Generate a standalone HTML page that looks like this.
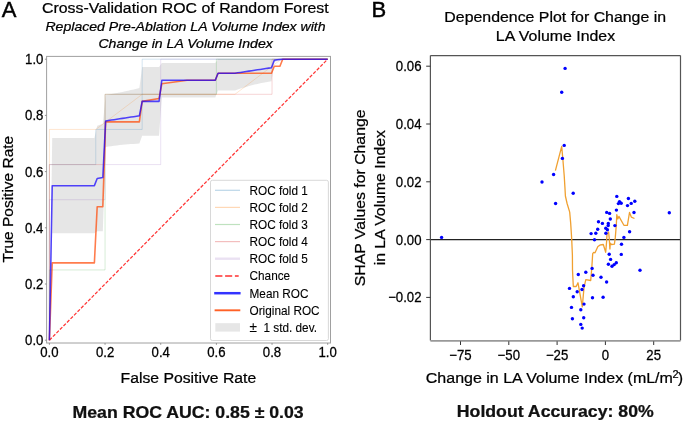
<!DOCTYPE html>
<html><head><meta charset="utf-8"><style>
html,body{margin:0;padding:0;background:#fff;}
body{width:685px;height:422px;overflow:hidden;}
svg{display:block;will-change:transform;}
text{font-family:"Liberation Sans",sans-serif;fill:#000;stroke:#000;stroke-width:0.25px;}
.tk{font-size:13.2px;}
.lab{font-size:16px;}
.lg{font-size:11.8px;stroke-width:0.1px;}
.bold{font-size:17.7px;font-weight:bold;fill:#111;}
.it{font-size:14.1px;font-style:italic;}
</style></head><body>
<svg width="685" height="422" viewBox="0 0 685 422">
<rect width="685" height="422" fill="#fff"/>
<!-- LEFT PANEL -->
<text x="1.7" y="16.6" style="font-size:22px;stroke-width:0.45px">A</text>
<text transform="translate(185.3,13.3) scale(1,0.95)" text-anchor="middle" class="lab" style="font-size:15.9px">Cross-Validation ROC of Random Forest</text>
<text transform="translate(185.5,30.6) scale(1,0.96)" text-anchor="middle" class="it">Replaced Pre-Ablation LA Volume Index with</text>
<text transform="translate(185.6,47.8) scale(1,0.96)" text-anchor="middle" class="it">Change in LA Volume Index</text>
<defs><clipPath id="lc"><rect x="46.6" y="56.4" width="283.9" height="286.6"/></clipPath></defs>
<g clip-path="url(#lc)">
<polygon points="49.40,340.20 52.21,138.00 55.02,138.00 57.83,138.00 60.64,138.00 63.46,138.00 66.27,138.00 69.08,138.00 71.89,138.00 74.70,138.00 77.51,138.00 80.32,138.00 83.13,138.00 85.94,138.00 88.76,138.00 91.57,138.00 94.38,138.00 97.19,125.64 100.00,124.81 102.81,123.96 105.62,94.88 108.43,94.46 111.24,94.01 114.06,93.53 116.87,93.02 119.68,92.49 122.49,91.93 125.30,91.35 128.11,90.73 130.92,90.10 133.73,89.43 136.54,88.74 139.36,88.03 142.17,66.93 144.98,66.93 147.79,66.93 150.60,66.93 153.41,66.93 156.22,66.93 159.03,66.93 161.84,63.07 164.66,63.07 167.47,63.07 170.28,63.07 173.09,63.07 175.90,63.07 178.71,63.07 181.52,63.07 184.33,63.07 187.14,63.07 189.96,63.07 192.77,63.07 195.58,63.07 198.39,63.07 201.20,63.07 204.01,63.07 206.82,63.07 209.63,63.07 212.44,63.07 215.26,63.07 218.07,59.20 220.88,59.20 223.69,59.20 226.50,59.20 229.31,59.20 232.12,59.20 234.93,59.20 237.74,59.20 240.56,59.20 243.37,59.20 246.18,59.20 248.99,59.20 251.80,59.20 254.61,59.20 257.42,59.20 260.23,59.20 263.04,59.20 265.86,59.20 268.67,59.20 271.48,59.20 274.29,59.20 277.10,59.20 279.91,59.20 282.72,59.20 285.53,59.20 288.34,59.20 291.16,59.20 293.97,59.20 296.78,59.20 299.59,59.20 302.40,59.20 305.21,59.20 308.02,59.20 310.83,59.20 313.64,59.20 316.46,59.20 319.27,59.20 322.08,59.20 324.89,59.20 327.70,59.20 327.70,59.20 324.89,59.20 322.08,59.20 319.27,59.20 316.46,59.20 313.64,59.20 310.83,59.20 308.02,59.20 305.21,59.20 302.40,59.20 299.59,59.20 296.78,59.20 293.97,59.20 291.16,59.20 288.34,59.20 285.53,59.20 282.72,59.20 279.91,59.84 277.10,61.12 274.29,62.39 271.48,81.33 268.67,81.75 265.86,82.22 263.04,82.75 260.23,83.32 257.42,83.95 254.61,84.62 251.80,85.34 248.99,86.10 246.18,86.91 243.37,87.75 240.56,88.62 237.74,89.52 234.93,90.46 232.12,90.46 229.31,90.46 226.50,90.46 223.69,90.46 220.88,90.46 218.07,90.46 215.26,97.48 212.44,97.48 209.63,97.48 206.82,97.48 204.01,97.48 201.20,97.48 198.39,97.48 195.58,97.48 192.77,97.48 189.96,97.48 187.14,97.48 184.33,97.48 181.52,97.48 178.71,97.48 175.90,97.48 173.09,97.48 170.28,97.48 167.47,97.48 164.66,97.48 161.84,97.48 159.03,135.77 156.22,135.77 153.41,135.77 150.60,135.77 147.79,135.77 144.98,135.77 142.17,135.77 139.36,143.62 136.54,143.76 133.73,143.92 130.92,144.11 128.11,144.32 125.30,144.56 122.49,144.83 119.68,145.12 116.87,145.44 114.06,145.79 111.24,146.16 108.43,146.56 105.62,146.99 102.81,231.16 100.00,231.17 97.19,231.18 94.38,233.30 91.57,233.30 88.76,233.30 85.94,233.30 83.13,233.30 80.32,233.30 77.51,233.30 74.70,233.30 71.89,233.30 69.08,233.30 66.27,233.30 63.46,233.30 60.64,233.30 57.83,233.30 55.02,233.30 52.21,233.30 49.40,340.20" fill="#808080" fill-opacity="0.2"/>
<polyline points="49.40,340.20 49.40,164.57 95.78,164.57 95.78,129.45 142.17,129.45 142.17,59.20 327.70,59.20" fill="none" stroke="#1f77b4" stroke-opacity="0.19" stroke-width="1.0"/>
<polyline points="49.40,340.20 49.40,129.45 95.78,129.45 142.17,94.32 234.93,94.32 281.32,59.20 327.70,59.20" fill="none" stroke="#ff7f0e" stroke-opacity="0.19" stroke-width="1.0"/>
<polyline points="49.40,340.20 49.40,269.95 105.06,269.95 105.06,94.32 216.38,94.32 216.38,59.20 327.70,59.20" fill="none" stroke="#2ca02c" stroke-opacity="0.19" stroke-width="1.0"/>
<polyline points="49.40,340.20 49.40,164.57 105.06,164.57 105.06,94.32 272.04,94.32 272.04,59.20 327.70,59.20" fill="none" stroke="#d62728" stroke-opacity="0.19" stroke-width="1.0"/>
<polyline points="49.40,340.20 49.40,199.70 105.06,199.70 105.06,164.57 160.72,164.57 160.72,59.20 327.70,59.20" fill="none" stroke="#9467bd" stroke-opacity="0.19" stroke-width="1.0"/>

<line x1="49.40" y1="340.20" x2="327.70" y2="59.20" stroke="#ff3535" stroke-width="1.25" stroke-dasharray="3.4 1.6"/>
<polyline points="49.40,340.20 52.21,262.92 94.38,262.92 97.19,206.72 102.81,206.72 105.62,121.86 139.36,121.86 142.17,101.35 159.03,98.54 161.84,83.79 187.14,80.27 215.26,80.27 218.07,73.25 271.48,73.25 274.29,66.23 279.91,66.23 282.72,59.20 327.70,59.20" fill="none" stroke="#ff4500" stroke-opacity="0.7" stroke-width="1.6" stroke-linejoin="round"/>
<polyline points="49.40,340.20 52.21,185.65 55.02,185.65 57.83,185.65 60.64,185.65 63.46,185.65 66.27,185.65 69.08,185.65 71.89,185.65 74.70,185.65 77.51,185.65 80.32,185.65 83.13,185.65 85.94,185.65 88.76,185.65 91.57,185.65 94.38,185.65 97.19,178.41 100.00,177.99 102.81,177.56 105.62,120.93 108.43,120.51 111.24,120.08 114.06,119.66 116.87,119.23 119.68,118.81 122.49,118.38 125.30,117.95 128.11,117.53 130.92,117.10 133.73,116.68 136.54,116.25 139.36,115.83 142.17,101.35 144.98,101.35 147.79,101.35 150.60,101.35 153.41,101.35 156.22,101.35 159.03,101.35 161.84,80.27 164.66,80.27 167.47,80.27 170.28,80.27 173.09,80.27 175.90,80.27 178.71,80.27 181.52,80.27 184.33,80.27 187.14,80.27 189.96,80.27 192.77,80.27 195.58,80.27 198.39,80.27 201.20,80.27 204.01,80.27 206.82,80.27 209.63,80.27 212.44,80.27 215.26,80.27 218.07,73.25 220.88,73.25 223.69,73.25 226.50,73.25 229.31,73.25 232.12,73.25 234.93,73.25 237.74,72.82 240.56,72.40 243.37,71.97 246.18,71.55 248.99,71.12 251.80,70.70 254.61,70.27 257.42,69.84 260.23,69.42 263.04,68.99 265.86,68.57 268.67,68.14 271.48,67.72 274.29,60.26 277.10,59.84 279.91,59.41 282.72,59.20 285.53,59.20 288.34,59.20 291.16,59.20 293.97,59.20 296.78,59.20 299.59,59.20 302.40,59.20 305.21,59.20 308.02,59.20 310.83,59.20 313.64,59.20 316.46,59.20 319.27,59.20 322.08,59.20 324.89,59.20 327.70,59.20" fill="none" stroke="#1400ff" stroke-opacity="0.72" stroke-width="1.55" stroke-linejoin="round"/>
</g>
<rect x="46.6" y="56.4" width="283.9" height="286.6" fill="none" stroke="#a0a0a0" stroke-width="1"/>
<line x1="49.40" y1="343.0" x2="49.40" y2="344.8" stroke="#888" stroke-width="0.9"/><line x1="44.9" y1="340.20" x2="46.6" y2="340.20" stroke="#888" stroke-width="0.9"/><text transform="translate(49.40,357.0) scale(1,1.1)" text-anchor="middle" class="tk">0.0</text><text transform="translate(43.4,345.20) scale(1,1.1)" text-anchor="end" class="tk">0.0</text>
<line x1="105.06" y1="343.0" x2="105.06" y2="344.8" stroke="#888" stroke-width="0.9"/><line x1="44.9" y1="284.00" x2="46.6" y2="284.00" stroke="#888" stroke-width="0.9"/><text transform="translate(105.06,357.0) scale(1,1.1)" text-anchor="middle" class="tk">0.2</text><text transform="translate(43.4,289.00) scale(1,1.1)" text-anchor="end" class="tk">0.2</text>
<line x1="160.72" y1="343.0" x2="160.72" y2="344.8" stroke="#888" stroke-width="0.9"/><line x1="44.9" y1="227.80" x2="46.6" y2="227.80" stroke="#888" stroke-width="0.9"/><text transform="translate(160.72,357.0) scale(1,1.1)" text-anchor="middle" class="tk">0.4</text><text transform="translate(43.4,232.80) scale(1,1.1)" text-anchor="end" class="tk">0.4</text>
<line x1="216.38" y1="343.0" x2="216.38" y2="344.8" stroke="#888" stroke-width="0.9"/><line x1="44.9" y1="171.60" x2="46.6" y2="171.60" stroke="#888" stroke-width="0.9"/><text transform="translate(216.38,357.0) scale(1,1.1)" text-anchor="middle" class="tk">0.6</text><text transform="translate(43.4,176.60) scale(1,1.1)" text-anchor="end" class="tk">0.6</text>
<line x1="272.04" y1="343.0" x2="272.04" y2="344.8" stroke="#888" stroke-width="0.9"/><line x1="44.9" y1="115.40" x2="46.6" y2="115.40" stroke="#888" stroke-width="0.9"/><text transform="translate(272.04,357.0) scale(1,1.1)" text-anchor="middle" class="tk">0.8</text><text transform="translate(43.4,120.40) scale(1,1.1)" text-anchor="end" class="tk">0.8</text>
<line x1="327.70" y1="343.0" x2="327.70" y2="344.8" stroke="#888" stroke-width="0.9"/><line x1="44.9" y1="59.20" x2="46.6" y2="59.20" stroke="#888" stroke-width="0.9"/><text transform="translate(327.70,357.0) scale(1,1.1)" text-anchor="middle" class="tk">1.0</text><text transform="translate(43.4,64.20) scale(1,1.1)" text-anchor="end" class="tk">1.0</text>

<text transform="translate(13.3,199.2) rotate(-90) scale(1,0.95)" text-anchor="middle" class="lab" style="font-size:15.5px">True Positive Rate</text>
<text transform="translate(188.4,383.0) scale(1,0.95)" text-anchor="middle" class="lab" style="font-size:15.75px">False Positive Rate</text>
<text transform="translate(188.1,417.8) scale(1,0.95)" text-anchor="middle" class="bold">Mean ROC AUC: 0.85 ± 0.03</text>
<!-- legend -->
<rect x="210.5" y="180.3" width="117.9" height="160.2" rx="1.8" fill="#fff" fill-opacity="0.8" stroke="#d4d4d4" stroke-width="0.9"/>
<g class="lgh">
<line x1="215" y1="190.3" x2="240" y2="190.3" stroke="#1f77b4" stroke-opacity="0.3" stroke-width="1.2"/>
<line x1="215" y1="207.4" x2="240" y2="207.4" stroke="#ff7f0e" stroke-opacity="0.3" stroke-width="1.2"/>
<line x1="215" y1="224.5" x2="240" y2="224.5" stroke="#2ca02c" stroke-opacity="0.3" stroke-width="1.2"/>
<line x1="215" y1="241.6" x2="240" y2="241.6" stroke="#d62728" stroke-opacity="0.3" stroke-width="1.2"/>
<line x1="215" y1="258.7" x2="240" y2="258.7" stroke="#9467bd" stroke-opacity="0.2" stroke-width="2.4"/>
<line x1="215.3" y1="276.0" x2="238.7" y2="276.0" stroke="#ff3030" stroke-width="1.7" stroke-dasharray="7.1 2.7"/>
<line x1="214.2" y1="293.2" x2="240.6" y2="293.2" stroke="#0000ff" stroke-opacity="0.8" stroke-width="2.5"/>
<line x1="214.6" y1="310.3" x2="240.3" y2="310.3" stroke="#ff4500" stroke-opacity="0.85" stroke-width="1.9"/>
<rect x="215.3" y="323.2" width="24.7" height="8.4" fill="#808080" fill-opacity="0.2"/>
</g>
<g class="lg">
<text transform="translate(249.5,194.9) scale(1,1.12)" class="lg">ROC fold 1</text>
<text transform="translate(249.5,212.0) scale(1,1.12)" class="lg">ROC fold 2</text>
<text transform="translate(249.5,229.1) scale(1,1.12)" class="lg">ROC fold 3</text>
<text transform="translate(249.5,246.2) scale(1,1.12)" class="lg">ROC fold 4</text>
<text transform="translate(249.5,263.3) scale(1,1.12)" class="lg">ROC fold 5</text>
<text transform="translate(249.5,280.4) scale(1,1.12)" class="lg">Chance</text>
<text transform="translate(249.5,297.5) scale(1,1.12)" class="lg">Mean ROC</text>
<text transform="translate(249.5,314.6) scale(1,1.12)" class="lg">Original ROC</text>
<text transform="translate(249.5,331.7) scale(1,1.12)" class="lg"><tspan style="font-size:13.6px">±</tspan> <tspan dx="3.2">1 std. dev.</tspan></text>
</g>
<!-- RIGHT PANEL -->
<text x="371.5" y="16.6" style="font-size:22px;stroke-width:0.45px">B</text>
<text transform="translate(555.2,21.9) scale(1,0.95)" text-anchor="middle" class="lab" style="font-size:15.9px">Dependence Plot for Change in</text>
<text transform="translate(555.5,41.0) scale(1,0.95)" text-anchor="middle" class="lab" style="font-size:15.9px">LA Volume Index</text>
<line x1="430.4" y1="239.60" x2="680.5" y2="239.60" stroke="#222" stroke-width="1.1"/>
<polyline points="555.4,170.6 561.7,146.4 562.8,158.5 564.2,175.5 564.9,186.9 565.4,196.0 567.1,203.5 569.7,212.1 570.7,223.4 571.7,239.1 572.4,255 572.5,270 573.3,286.5 576.2,286.5 578.0,282.8 582.3,306.8 584.0,287.6 585.8,279.6 590.7,280.5 591.8,267.7 592.7,253.6 593.7,252.3 595.0,252.8 597.9,246.5 600.4,244.9 603.3,244.5 605.7,252.3 606.6,241.6 607.0,234.1 607.8,233.3 608.6,232.0 609.2,238 609.9,249 610.3,243.2 611.5,244.5 614.4,244.1 615.3,237.4 616.3,225 616.8,214.6 617.8,218.9 618.9,216.4 623.9,225.3 627.4,225.3 629.5,212.5 631.3,217.1 634.5,218.5" fill="none" stroke="#f0a030" stroke-width="1.3" stroke-linejoin="round"/>
<g fill="#0000ff"><circle cx="441.6" cy="237.4" r="1.7"/><circle cx="565.1" cy="68.4" r="1.7"/><circle cx="561.7" cy="92.2" r="1.7"/><circle cx="564.2" cy="145.4" r="1.7"/><circle cx="562.4" cy="158.4" r="1.7"/><circle cx="553.6" cy="174.5" r="1.7"/><circle cx="542.0" cy="182.0" r="1.7"/><circle cx="573.2" cy="193.3" r="1.7"/><circle cx="555.6" cy="203.5" r="1.7"/><circle cx="616.8" cy="196.4" r="1.7"/><circle cx="619.5" cy="201.6" r="1.7"/><circle cx="618.4" cy="203.6" r="1.7"/><circle cx="621.2" cy="203.2" r="1.7"/><circle cx="628.4" cy="198.5" r="1.7"/><circle cx="634.8" cy="201.2" r="1.7"/><circle cx="631.2" cy="203.4" r="1.7"/><circle cx="627.5" cy="205.6" r="1.7"/><circle cx="616.4" cy="210.1" r="1.7"/><circle cx="634.0" cy="212.5" r="1.7"/><circle cx="669.3" cy="212.8" r="1.7"/><circle cx="606.7" cy="212.4" r="1.7"/><circle cx="609.6" cy="213.4" r="1.7"/><circle cx="610.3" cy="219.0" r="1.7"/><circle cx="598.5" cy="221.7" r="1.7"/><circle cx="602.4" cy="223.4" r="1.7"/><circle cx="608.3" cy="223.5" r="1.7"/><circle cx="608.2" cy="225.6" r="1.7"/><circle cx="614.9" cy="225.6" r="1.7"/><circle cx="605.8" cy="228.2" r="1.7"/><circle cx="597.7" cy="229.3" r="1.7"/><circle cx="607.4" cy="229.8" r="1.7"/><circle cx="629.6" cy="231.7" r="1.7"/><circle cx="595.8" cy="233.3" r="1.7"/><circle cx="591.1" cy="233.6" r="1.7"/><circle cx="605.9" cy="233.2" r="1.7"/><circle cx="623.9" cy="237.4" r="1.7"/><circle cx="594.5" cy="239.8" r="1.7"/><circle cx="621.5" cy="244.2" r="1.7"/><circle cx="609.2" cy="254.3" r="1.7"/><circle cx="621.3" cy="254.4" r="1.7"/><circle cx="610.6" cy="259.4" r="1.7"/><circle cx="608.4" cy="264.2" r="1.7"/><circle cx="612.0" cy="266.2" r="1.7"/><circle cx="614.2" cy="264.6" r="1.7"/><circle cx="616.3" cy="262.7" r="1.7"/><circle cx="640.0" cy="270.2" r="1.7"/><circle cx="592.1" cy="268.4" r="1.7"/><circle cx="585.8" cy="272.3" r="1.7"/><circle cx="593.0" cy="275.2" r="1.7"/><circle cx="601.0" cy="277.2" r="1.7"/><circle cx="606.6" cy="282.0" r="1.7"/><circle cx="603.1" cy="297.3" r="1.7"/><circle cx="578.3" cy="274.5" r="1.7"/><circle cx="583.6" cy="285.7" r="1.7"/><circle cx="569.5" cy="288.4" r="1.7"/><circle cx="582.0" cy="289.5" r="1.7"/><circle cx="577.2" cy="291.8" r="1.7"/><circle cx="573.3" cy="296.8" r="1.7"/><circle cx="592.5" cy="297.8" r="1.7"/><circle cx="584.0" cy="304.1" r="1.7"/><circle cx="571.5" cy="307.4" r="1.7"/><circle cx="580.8" cy="309.7" r="1.7"/><circle cx="572.4" cy="318.7" r="1.7"/><circle cx="583.7" cy="317.7" r="1.7"/><circle cx="580.8" cy="324.4" r="1.7"/><circle cx="582.2" cy="328.1" r="1.7"/></g>
<line x1="430.4" y1="55.6" x2="680.5" y2="55.6" stroke="#555" stroke-width="1.2"/>
<line x1="680.5" y1="55.6" x2="680.5" y2="340.6" stroke="#555" stroke-width="1.2"/>
<line x1="430.4" y1="55.6" x2="430.4" y2="340.6" stroke="#555" stroke-width="1.2"/>
<line x1="430.4" y1="340.8" x2="680.5" y2="340.8" stroke="#999" stroke-width="1.7"/>
<line x1="460.50" y1="341.3" x2="460.50" y2="345.0" stroke="#333" stroke-width="1"/><text transform="translate(460.50,359.5) scale(1,1.1)" text-anchor="middle" class="tk">−75</text>
<line x1="508.80" y1="341.3" x2="508.80" y2="345.0" stroke="#333" stroke-width="1"/><text transform="translate(508.80,359.5) scale(1,1.1)" text-anchor="middle" class="tk">−50</text>
<line x1="557.10" y1="341.3" x2="557.10" y2="345.0" stroke="#333" stroke-width="1"/><text transform="translate(557.10,359.5) scale(1,1.1)" text-anchor="middle" class="tk">−25</text>
<line x1="605.40" y1="341.3" x2="605.40" y2="345.0" stroke="#333" stroke-width="1"/><text transform="translate(605.40,359.5) scale(1,1.1)" text-anchor="middle" class="tk">0</text>
<line x1="653.70" y1="341.3" x2="653.70" y2="345.0" stroke="#333" stroke-width="1"/><text transform="translate(653.70,359.5) scale(1,1.1)" text-anchor="middle" class="tk">25</text>
<line x1="426.2" y1="297.40" x2="430.4" y2="297.40" stroke="#333" stroke-width="1"/><text transform="translate(421.5,302.40) scale(1,1.1)" text-anchor="end" class="tk">−0.02</text>
<line x1="426.2" y1="239.60" x2="430.4" y2="239.60" stroke="#333" stroke-width="1"/><text transform="translate(421.5,244.60) scale(1,1.1)" text-anchor="end" class="tk">0.00</text>
<line x1="426.2" y1="181.80" x2="430.4" y2="181.80" stroke="#333" stroke-width="1"/><text transform="translate(421.5,186.80) scale(1,1.1)" text-anchor="end" class="tk">0.02</text>
<line x1="426.2" y1="124.00" x2="430.4" y2="124.00" stroke="#333" stroke-width="1"/><text transform="translate(421.5,129.00) scale(1,1.1)" text-anchor="end" class="tk">0.04</text>
<line x1="426.2" y1="66.20" x2="430.4" y2="66.20" stroke="#333" stroke-width="1"/><text transform="translate(421.5,71.20) scale(1,1.1)" text-anchor="end" class="tk">0.06</text>

<text transform="translate(365.2,197.9) rotate(-90) scale(1,0.95)" text-anchor="middle" class="lab" style="font-size:15.8px">SHAP Values for Change</text>
<text transform="translate(384.5,197.7) rotate(-90) scale(1,0.95)" text-anchor="middle" class="lab" style="font-size:15.8px">in LA Volume Index</text>
<text transform="translate(425.8,382.5) scale(1,0.95)" class="lab">Change in LA Volume Index (mL/m<tspan dx="-0.4" dy="-5.2" style="font-size:11px">2</tspan><tspan dx="-0.8" dy="5.2">)</tspan></text>
<text transform="translate(555.25,416.8) scale(1,0.95)" text-anchor="middle" class="bold">Holdout Accuracy: 80%</text>
</svg>
</body></html>
